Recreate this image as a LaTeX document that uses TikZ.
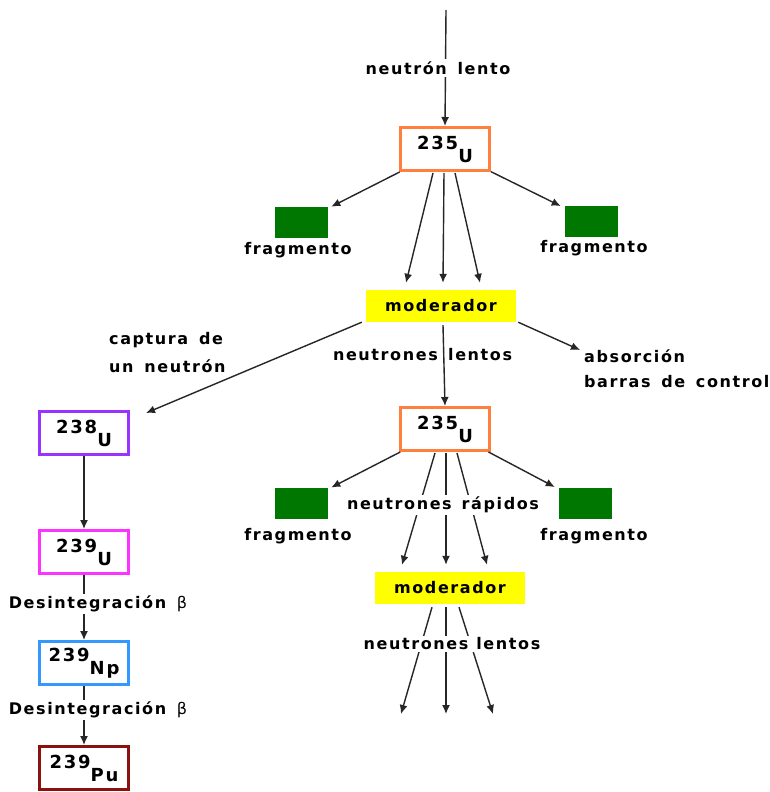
\documentclass[tikz,border=0pt]{standalone}
\usepackage{fontspec}
\setmainfont{DejaVu Sans}[LetterSpace=10,WordSpace=1.5]
\usetikzlibrary{arrows.meta,calc}
\definecolor{uorange}{HTML}{FF7F3F}
\definecolor{upurple}{HTML}{9933FF}
\definecolor{umagenta}{HTML}{FF33FF}
\definecolor{ublue}{HTML}{3399FF}
\definecolor{ured}{HTML}{8B1010}
\definecolor{fgreen}{HTML}{007700}
\definecolor{myel}{HTML}{FFFF00}
\definecolor{lnc}{HTML}{262626}
\tikzset{
  arr/.style={draw=lnc, line width=1.4pt, -{Latex[length=9pt,width=8pt]}},
  nuc/.style={draw=#1, line width=3pt, fill=white, minimum width=89pt, minimum height=43pt, inner sep=0pt, font=\fontsize{18}{20}\selectfont\bfseries},
  frag/.style={fill=fgreen, minimum width=53pt, minimum height=31pt, inner sep=0pt},
  moder/.style={fill=myel, minimum width=150pt, minimum height=32pt, inner sep=0pt},
  lbl/.style={inner sep=1pt},
  wlbl/.style={fill=white, inner sep=2pt},
}
\newcommand{\iso}[2]{#1\raisebox{-13pt}{#2}}
\begin{document}
\begin{tikzpicture}[x=1pt,y=-1pt, font=\fontsize{16}{18}\selectfont\bfseries]
\useasboundingbox[fill=white] (0,0) rectangle (769,792);
% nodes
\node[nuc=uorange] (u1) at (445,149) {\iso{235}{U}};
\node[frag] (fl1) at (301,222) {};
\node[frag] (fr1) at (591,221) {};
\node[lbl] (fl1t) at (298,250) {fragmento};
\node[lbl] (fr1t) at (594,248) {fragmento};
\node[moder] (m1) at (441,306) {moderador};
\node[nuc=uorange] (u2) at (445,429) {\iso{235}{U}};
\node[frag] (fl2) at (301,503) {};
\node[frag] (fr2) at (585,503) {};
\node[lbl] (fl2t) at (298,536) {fragmento};
\node[lbl] (fr2t) at (594,536) {fragmento};
\node[moder] (m2) at (450,588) {moderador};
\node[nuc=upurple] (u238) at (84,433) {\iso{238}{U}};
\node[nuc=umagenta] (u239) at (84,552) {\iso{239}{U}};
\node[nuc=ublue] (np) at (84,663) {\iso{239}{Np}};
\node[nuc=ured] (pu) at (84,768) {\iso{239}{Pu}};
\node[lbl, anchor=west] (cap1) at (108,340) {captura de};
\node[lbl, anchor=west] (cap2) at (108,366) {un neutrón};
\node[lbl, anchor=west] (abs1) at (583,356) {absorción};
\node[lbl, anchor=west] (abs2) at (583,382) {barras de control};
% coordinates
\coordinate (top) at (446,10);
\coordinate (t238) at (146,413);
\coordinate (tabs) at (580,350);
\coordinate (b1) at (401,714);
\coordinate (b2) at (446,714);
\coordinate (b3) at (493,714);
% top
\draw[arr] (top) -- (u1.north);
\node[wlbl] (nl) at (438,68) {neutrón lento};
% u1 outputs
\draw[arr, shorten >=4pt] (u1) -- (fl1);
\draw[arr, shorten >=4pt] (u1) -- (fr1);
\draw[arr] ($(u1.south)+(-12,1)$) -- ($(m1.north)+(-35,-7)$);
\draw[arr] ($(u1.south)+(-1,1)$) -- ($(m1.north)+(2,-7)$);
\draw[arr] ($(u1.south)+(10,1)$) -- ($(m1.north)+(39,-7)$);
% m1 outputs
\draw[arr] ($(m1.south west)+(-4,0)$) -- (t238);
\draw[arr] ($(m1.south east)+(2,0)$) -- (tabs);
\draw[arr] ($(m1.south)+(2,3)$) -- (u2.north);
\node[lbl, anchor=east] (nl2a) at (439,355) {neutrones};
\node[lbl, anchor=west] (nl2b) at (447,355) {lentos};
% u2 outputs
\draw[arr, shorten >=4pt] (u2) -- (fl2);
\draw[arr, shorten >=4pt] (u2) -- (fr2);
\draw[arr] ($(u2.south)+(-10,1)$) -- ($(m2.north)+(-48,-7)$);
\draw[arr] ($(u2.south)+(1,1)$) -- ($(m2.north)+(-4,-7)$);
\draw[arr] ($(u2.south)+(12,1)$) -- ($(m2.north)+(37,-7)$);
\node[wlbl] (nr) at (443,505) {neutrones\hspace{10pt}rápidos};
% m2 outputs
\draw[arr] ($(m2.south)+(-18,3)$) -- (b1);
\draw[arr] ($(m2.south)+(-4,3)$) -- (b2);
\draw[arr] ($(m2.south)+(9,3)$) -- (b3);
\node[wlbl] (nl3) at (452,644) {neutrones\hspace{8pt}lentos};
% left chain
\draw[arr] (u238) -- (u239);
\draw[arr] (u239) -- (np);
\node[wlbl] (d1) at (98,604) {Desintegración {\mdseries β}};
\draw[arr] (np) -- (pu);
\node[wlbl] (d2) at (98,710) {Desintegración {\mdseries β}};
\end{tikzpicture}
\end{document}
